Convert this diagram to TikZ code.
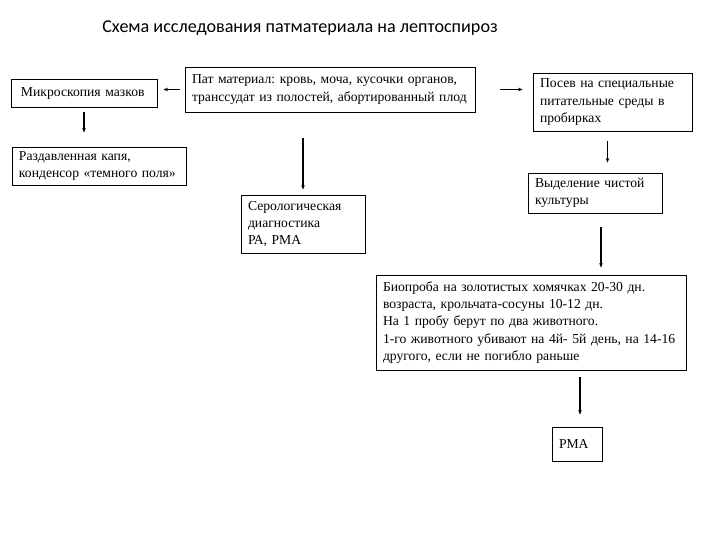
\documentclass[tikz,border=0pt]{standalone}
\usepackage{fontspec}
\setmainfont{Liberation Serif}
\newfontfamily\titlefont{Carlito}
\usetikzlibrary{arrows.meta}
\frenchspacing
\tikzset{
  box/.style={draw, line width=0.8bp, rectangle, align=left, inner xsep=7bp, inner ysep=3bp,
    font=\fontsize{13.7}{17.5}\selectfont},
  arr/.style={line width=1.5bp, -{Stealth[length=4.5bp,width=3.5bp]}}
}
\begin{document}
\begin{tikzpicture}[x=1bp,y=-1bp]
\useasboundingbox (0,0) rectangle (720,540);
\node[font=\titlefont\fontsize{18.2}{21}\selectfont] (title) at (300,28) {Схема исследования патматериала на лептоспироз};
\node[box, minimum width=146bp, minimum height=28bp, text width=132bp] (micro) at (84,93) {\hspace*{3bp}Микроскопия мазков};
\node[box, minimum width=290bp, minimum height=45bp, text width=276bp] (pat) at (330,89.5) {Пат материал: кровь, моча, кусочки органов,\\транссудат из полостей, абортированный плод};
\node[box, minimum width=159bp, minimum height=58bp, text width=145bp] (posev) at (612.5,102) {Посев на специальные\\питательные среды в\\пробирках};
\node[box, minimum width=174bp, minimum height=38bp, text width=160bp] (razd) at (99,166) {Раздавленная капя,\\конденсор «темного поля»};
\node[box, minimum width=124bp, minimum height=58bp, text width=110bp] (sero) at (303,224) {Серологическая\\диагностика\\РА, РМА};
\node[box, minimum width=134bp, minimum height=40bp, text width=120bp] (vyd) at (595,193) {Выделение чистой\\культуры};
\node[box, minimum width=310bp, minimum height=95bp, text width=296bp] (bio) at (531,322.5) {Биопроба на золотистых хомячках 20-30 дн.\\возраста, крольчата-сосуны 10-12 дн.\\На 1 пробу берут по два животного.\\1-го животного убивают на 4й- 5й день, на 14-16\\другого, если не погибло раньше};
\node[box, minimum width=50bp, minimum height=34bp, text width=36bp] (rma) at (577,444) {РМА};
\draw[arr, shorten <=5bp, shorten >=6bp] (pat.west) -- (pat.west -| micro.east);
\draw[arr, shorten <=25bp, shorten >=10bp] (pat.east) -- (pat.east -| posev.west);
\draw[arr, shorten <=5bp, shorten >=14bp] (micro.south) -- (micro.south |- razd.north);
\draw[arr, shorten <=26bp, shorten >=5bp] (sero.north |- pat.south) -- (sero.north);
\draw[arr, shorten <=10bp, shorten >=10bp] ([xshift=-5bp]posev.south) -- ([xshift=-5bp]posev.south |- vyd.north);
\draw[arr, shorten <=14bp, shorten >=7bp] ([xshift=6bp]vyd.south) -- ([xshift=6bp]vyd.south |- bio.north);
\draw[arr, shorten <=7bp, shorten >=12bp] ([xshift=3bp]rma.north |- bio.south) -- ([xshift=3bp]rma.north);
\end{tikzpicture}
\end{document}
